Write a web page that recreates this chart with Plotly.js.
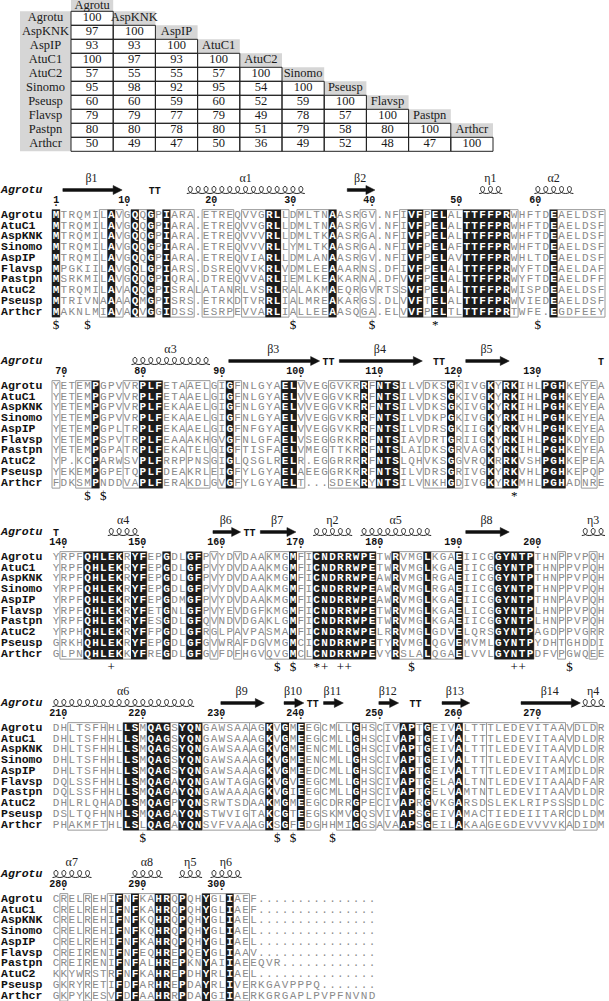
<!DOCTYPE html>
<html>
<head>
<meta charset="utf-8">
<script src="https://cdn.plot.ly/plotly-3.0.1.min.js"></script>
<style>
  html, body { margin: 0; padding: 0; background: #fff; }
  #chart { width: 609px; height: 1001px; }
</style>
</head>
<body>
<div id="chart"></div>
<script>
// ---- identity table (lower triangle, percent) ----
const tableNames = ['Agrotu', 'AspKNK', 'AspIP', 'AtuC1', 'AtuC2', 'Sinomo', 'Pseusp', 'Flavsp', 'Pastpn', 'Arthcr'];
const identity = [
    [100],
    [97, 100],
    [93, 93, 100],
    [100, 97, 93, 100],
    [57, 55, 55, 57, 100],
    [95, 98, 92, 95, 54, 100],
    [60, 60, 59, 60, 52, 59, 100],
    [79, 79, 77, 79, 49, 78, 57, 100],
    [80, 80, 78, 80, 51, 79, 58, 80, 100],
    [50, 49, 47, 50, 36, 49, 52, 48, 47, 100]
];

// ---- alignment ----
const refName = 'Agrotu';
const seqNames = ['Agrotu', 'AtuC1', 'AspKNK', 'Sinomo', 'AspIP', 'Flavsp', 'Pastpn', 'AtuC2', 'Pseusp', 'Arthcr'];

const block1 = [
    'MTRQMILAVGQQGPIARA.ETREQVVGRLLDMLTNAASRGV.NFIVFPELALTTFFPRWHFTDEAELDSF',
    'MTRQMILAVGQQGPIARA.ETREQVVGRLLDMLTNAASRGV.NFIVFPELALTTFFPRWHFTDEAELDSF',
    'MTRQMILAVGQQGPIARA.ETREQVVVRLLDMLTKAASRGA.NFIVFPELALTTFFPRWHFTDEAELDSF',
    'MTRQMILAVGQQGPIARA.ETREQVVVRLLYMLTKAASRGA.NFIVFPELAFTTFFPRWHFTDEAELDSF',
    'MTRQMILAVGQQGPIARA.ETREQVIARLLDMLANAASRGV.NFIVFPELAVTTFFPRWHLTDEAELDSF',
    'MPGKIILAVGQLGPIARS.DSREQVVKRLVDMLEEAAARNS.DFIVFPELALTTFFPRWYFTDEAELDAF',
    'MSRKMILAVGQQGPIQRA.DTREQVVARLIEMLKEAKARNA.DFVVFPELALTTFFPRWYFTDEAELDFF',
    'MTRQMILAVAQQGPISRALATANRLVSRLRALAKMAEQRGVRTSSVFPELALTTFFPRWISPDEAELDSF',
    'MTRIVNAAAAQMGPISRS.ETRKDTVRRLIALMREAKARGS.DLVVFTELALTTFFPRWVIEDEAELDSF',
    'MAKNLMIAVAQVGGIDSS.ESRPEVVARLIALLEEAASQGA.ELVVFPELTLTTFFPRTWFE.EGDFEEY'
];
const block2 = [
    'YETEMPGPVVRPLFETAAELGIGFNLGYAELVVEGGVKRRFNTSILVDKSGKIVGKYRKIHLPGHKEYEA',
    'YETEMPGPVVRPLFETAAELGIGFNLGYAELVVEGGVKRRFNTSILVDKSGKIVGKYRKIHLPGHKEYEA',
    'YETEMPGPVVRPLFEKAAELGIGFNLGYAELVVEGGVKRRFNTSILVDKSGKIVGKYRKIHLPGHKEYEA',
    'YETEMPGPVVRPLFEKAAELGIGFNLGYAELVVEGGVKRRFNTSILVDKPGKIVGKYRKIHLPGHKEYEA',
    'YETEMPGPLTRPLFEKAAELGIGFNFGYAELVVEGGVKRRFNTSILVDRSGKIIGKYRKVHLPGHKEYEA',
    'YETEMPSPVTRPLFEAAAKHGVGFNLGFAELVSEGGRKRRFNTSIAVDRTGRIIGKYRKIHLPGHKDYED',
    'YETEMPGPATRPLFEKATELGIGFTISFAELVMEGTTKRRFNTSLAIDKSGRVAGKYRKIHLPGHKEYEA',
    'YP.KCPARWSVPLFRRPPNSGIGLQSGLRELR.EGGRRRRFNTSLQHVKSGGVRQKRRKVSHPGHKEPEA',
    'YEKEMPGPETQPLFDEAKRLEIGFYLGYAELAEEGGRKRRFNTSILVDRSGRIVGKYRKVHLPGHKEPQP',
    'FDKSMPNDDVAPLFERAKDLGVGFYLGYAELT...SDEKRYNTSILVNKHGDIVGKYRKMHLPGHADNRE'
];
const block3 = [
    'YRPFQHLEKRYFEPGDLGFPVYDVDAAKMGMFICNDRRWPETWRVMGLKGAEIICGGYNTPTHNPPVPQH',
    'YRPFQHLEKRYFEPGDLGFPVYDVDAAKMGMFICNDRRWPETWRVMGLKGAEIICGGYNTPTHNPPVPQH',
    'YRPFQHLEKRYFEPGDLGFPVYDVDAAKMGMFICNDRRWPEAWRVMGLRGAEIICGGYNTPTHNPPVPQH',
    'YRPFQHLEKRYFEPGDLGFPVYDVDAAKMGMFICNDRRWPEAWRVMGLRGAEIICGGYNTPTHNPPVPQH',
    'YRPFQHLEKRYFEPGDMGFPVYDVDAAKMGMFICNDRRWPEAWRVMGLKGAEIICGGYNTPTHNPAVPQH',
    'YRPFQHLEKRYFETGNLGFPVYEVDGFKMGMFICNDRRWPETWRVMGLKGAELICGGYNTPLHNPPVPQH',
    'YRPFQHLEKRYFESGDLGFQVNDVDGAKLGMFICNDRRWPETWRVMGLKGAEIICGGYNTPLHNPPVPQH',
    'YRPHQHLEKRYFFPGDLGFRGLPAVPASMAMFICNDRRWPELRRVMGLGDVELQRSGYNTPAGDPPVGRR',
    'GRKHQHLEKRYFEPGDLGFGVWRAFDGVMGMCICNDRRWPETYRVMGLQGVEMVMLGYNTPYDHTGHDDI',
    'GLPNQHLEKKYFREGDLGFGVFDFHGVQVGMCLCNDRRWPEVYRSLALQGAELVVLGYNTPDFVPGWQEE'
];
const block4 = [
    'DHLTSFHHLLSMQAGSYQNGAWSAAAGKVGMEEGCMLLGHSCIVAPTGEIVALTTTLEDEVITAAVDLDR',
    'DHLTSFHHLLSMQAGSYQNGAWSAAAGKVGMEEGCMLLGHSCIVAPTGEIVALTTTLEDEVITAAVDLDR',
    'DHLTSFHHLLSMQAGSYQNGAWSAAAGKVGMEENCMLLGHSCIVAPTGEIVALTTTLEDEVITAAVDLDR',
    'DHLTSFHHLLSMQAGSYQNGAWSAAAGKVGMEENCMLLGHSCIVAPTGEIVALTTTLEDEVITAAVCLDR',
    'DHLTSFHHLLSMQAGSYQNGAWSAAAGKVGMEEDCMLLGHSCIVAPTGEIVALTTTLEDEVITAMIDLDR',
    'DQLSSFHHLLSMQAGAYQNGAWTAGAGKVGVEEGCMLLGHSCIVAPTGELAALTNTLEDEVITAAADFAR',
    'DQLSSFHHLLSMQAGAYQNGAWAAAAGKVGIEEGCMLLGHSCIVAPTGELVAMTNTLEDEVITAAVDLDR',
    'DHLRLQHADLSMQAGPYQNSRWTSDAAKMGMEEGCDRRGPECIVAPRGVKGARSDSLEKLRIPSSSDLDC',
    'DSLTQFHNHLSMQAGAYQNSTWVIGTAKCGTEEGSKMVGQSVIVAPSGEIVAMACTIEDEIITARCDLDM',
    'PHAKMFTHLLSLQAGAYQNSVFVAAAGKSGFEDGHHMIGGSAVAAPSGEILAKAAGEGDEVVVVKADIDM'
];
const block5 = [
    'CRELREHIFNFKAHRQPQHYGLIAEF...............',
    'CRELREHIFNFKAHRQPQHYGLIAEF...............',
    'CRELREHIFNFKQHRQPQHYGLIAEL...............',
    'CRELREHIFNFKQHRQPQHYGLIAEL...............',
    'CRELREHIFNFKAHRQPQHYGLIAEL...............',
    'CREIRENIFNFEQHREPQEYGLIAAV...............',
    'CREIRENIFNFALHREPKNYAIIAEEQVR............',
    'KKYWRSTRFNFKAHREPDHYRLIAEL...............',
    'GKRYRETIFDFARHREPDAYRLIVERKGAVPPPQ.......',
    'GKPYKESVFDFAAHRRPDAYGIIAERKGRGAPLPVPFNVND'
];

// similarity frames: [first column, last column] per block
const frames1 = [[1, 1], [7, 9], [11, 13], [15, 18], [20, 23], [25, 30], [32, 36], [40, 41], [45, 59], [64, 70]];
const frames2 = [[1, 1], [4, 6], [10, 14], [18, 20], [22, 24], [30, 32], [36, 44], [48, 52], [56, 59], [63, 65], [68, 69]];
const frames3 = [[2, 4], [5, 12], [15, 15], [18, 19], [21, 21], [24, 24], [28, 32], [33, 41], [44, 52], [57, 61], [65, 65], [69, 69]];
const frames4 = [[3, 7], [10, 19], [20, 25], [26, 34], [37, 41], [43, 55], [56, 65], [67, 69]];
const frames5 = [[2, 2], [5, 5], [8, 17], [20, 25]];

// secondary structure of the reference: [kind, label, first column, last column]
const struct1 = [['beta', 'β1', 2, 9], ['turn', 'TT', 13, 14], ['alpha', 'α1', 18, 32], ['beta', 'β2', 38, 41],
    ['alpha', 'η1', 55, 57], ['alpha', 'α2', 62, 66]];
const struct2 = [['alpha', 'α3', 11, 20], ['beta', 'β3', 23, 34], ['turn', 'TT', 35, 36], ['beta', 'β4', 37, 47],
    ['turn', 'TT', 49, 50], ['beta', 'β5', 53, 58], ['turn', 'T', 70, 70]];
const struct3 = [['turn', 'T', 1, 1], ['alpha', 'α4', 8, 11], ['beta', 'β6', 21, 24], ['turn', 'TT', 25, 26],
    ['beta', 'β7', 27, 31], ['alpha', 'η2', 34, 38], ['alpha', 'α5', 40, 48], ['beta', 'β8', 53, 58], ['alpha', 'η3', 68, 70]];
const struct4 = [['alpha', 'α6', 1, 18], ['beta', 'β9', 22, 27], ['beta', 'β10', 30, 32], ['turn', 'TT', 33, 34],
    ['beta', 'β11', 35, 37], ['beta', 'β12', 42, 44], ['turn', 'TT', 46, 47], ['beta', 'β13', 50, 53],
    ['beta', 'β14', 60, 67], ['alpha', 'η4', 68, 70]];
const struct5 = [['alpha', 'α7', 1, 5], ['alpha', 'α8', 11, 14], ['alpha', 'η5', 17, 19], ['alpha', 'η6', 21, 24]];

// symbols under the alignment: [symbol, column]
const marks1 = [['$', 1], ['$', 5], ['$', 31], ['$', 41], ['*', 49], ['$', 62]];
const marks2 = [['$', 5], ['$', 7], ['*', 59]];
const marks3 = [['+', 8], ['$', 29], ['$', 31], ['*', 34], ['+', 35], ['+', 37], ['+', 38], ['$', 46], ['+', 59], ['+', 60], ['$', 66]];
const marks4 = [['$', 12], ['$', 29], ['$', 31], ['$', 36]];
const marks5 = [];

const blocks = [block1, block2, block3, block4, block5];
const frames = [frames1, frames2, frames3, frames4, frames5];
const structs = [struct1, struct2, struct3, struct4, struct5];
const marks = [marks1, marks2, marks3, marks4, marks5];

// ---- page geometry ----
const COL_X0 = 52, COL_W = 7.9, ROW_H = 10.75;
const BLOCK_Y0 = 215, BLOCK_STEP = 171;
const TAB_X0 = 20, TAB_LAB_W = 51, TAB_CELL_W = 42.2, TAB_Y0 = 11.3, TAB_ROW_H = 14;

const colX = c => COL_X0 + (c - 0.5) * COL_W;
const rowY = (b, r) => BLOCK_Y0 + b * BLOCK_STEP + r * ROW_H;

const MONO = '"Liberation Mono", "DejaVu Sans Mono", monospace';
const SERIF = '"Liberation Serif", "DejaVu Serif", serif';

const shapes = [];
const traces = [];

function textTrace(xs, ys, texts, font, pos) {
    return {
        type: 'scatter', mode: 'text', x: xs, y: ys, text: texts,
        textposition: pos || 'middle center', textfont: font,
        hoverinfo: 'skip', showlegend: false, cliponaxis: false
    };
}

function rect(x0, x1, y0, y1, fill, lineColor, lineWidth) {
    shapes.push({
        type: 'rect', xref: 'x', yref: 'y', x0, x1, y0, y1, layer: 'below',
        fillcolor: fill || 'rgba(0,0,0,0)',
        line: {color: lineColor || 'rgba(0,0,0,0)', width: lineWidth || 0}
    });
}

// plotly reads a bare "$" as the start of LaTeX, so hand it over as an entity
const safeText = s => s.replace(/\$/g, '&#36;');

// ---- table ----
const tabGray = '#d6d6d6';
rect(TAB_X0, TAB_X0 + TAB_LAB_W, TAB_Y0, TAB_Y0 + tableNames.length * TAB_ROW_H, tabGray);
const tab = {x: [], y: [], t: []};
tableNames.forEach((name, i) => {
    const cx0 = TAB_X0 + TAB_LAB_W + i * TAB_CELL_W;
    rect(cx0, cx0 + TAB_CELL_W, TAB_Y0 + (i - 1) * TAB_ROW_H, TAB_Y0 + i * TAB_ROW_H, tabGray);
    // the first header sits against the top edge; nudge it down so it stays whole
    const hy = TAB_Y0 + (i - 0.5) * TAB_ROW_H + (i === 0 ? 2 : 0);
    tab.x.push(cx0 + TAB_CELL_W / 2); tab.y.push(hy); tab.t.push(name);
    tab.x.push(TAB_X0 + TAB_LAB_W / 2); tab.y.push(TAB_Y0 + (i + 0.5) * TAB_ROW_H); tab.t.push(name);
});
identity.forEach((row, r) => row.forEach((v, c) => {
    const cx0 = TAB_X0 + TAB_LAB_W + c * TAB_CELL_W;
    const cy0 = TAB_Y0 + r * TAB_ROW_H;
    shapes.push({type: 'rect', x0: cx0, x1: cx0 + TAB_CELL_W, y0: cy0, y1: cy0 + TAB_ROW_H,
        line: {color: '#222', width: 1}, fillcolor: 'rgba(0,0,0,0)', layer: 'above'});
    tab.x.push(cx0 + TAB_CELL_W / 2); tab.y.push(cy0 + TAB_ROW_H / 2); tab.t.push(String(v));
}));
traces.push(textTrace(tab.x, tab.y, tab.t, {family: SERIF, size: 12.5, color: '#1a1a1a'}));

// ---- alignment blocks ----
const plain = {x: [], y: [], t: []};
const boxed = {x: [], y: [], t: []};
const names = {x: [], y: [], t: []};
const nums = {x: [], y: [], t: []};
const dots = {x: [], y: [], t: []};
const turns = {x: [], y: [], t: []};
const greek = {x: [], y: [], t: []};
const refs = {x: [], y: [], t: []};
const syms = {x: [], y: [], t: []};

let resNum = 0;
blocks.forEach((seqs, b) => {
    const ncol = seqs[0].length;
    const top = rowY(b, 0) - ROW_H / 2;
    const bottom = rowY(b, seqs.length - 1) + ROW_H / 2;

    // frames first, black identity boxes over them
    frames[b].forEach(([c0, c1]) => {
        rect(colX(c0) - COL_W / 2, colX(c1) + COL_W / 2, top, bottom, null, '#9a9a9a', 1);
    });
    const ident = [];
    for (let c = 0; c < ncol; c++) {
        const ch = seqs[0][c];
        ident.push(ch !== '.' && seqs.every(s => s[c] === ch));
    }
    for (let c = 0; c < ncol; c++) {
        if (!ident[c] || (c > 0 && ident[c - 1])) continue;
        let e = c;
        while (e + 1 < ncol && ident[e + 1]) e++;
        rect(colX(c + 1) - COL_W / 2, colX(e + 1) + COL_W / 2, top, bottom, '#1c1c1c');
    }

    seqs.forEach((s, r) => {
        names.x.push(1); names.y.push(rowY(b, r)); names.t.push(seqNames[r]);
        for (let c = 0; c < s.length; c++) {
            const dst = ident[c] ? boxed : plain;
            dst.x.push(colX(c + 1)); dst.y.push(rowY(b, r)); dst.t.push(s[c]);
        }
    });

    // numbering from the reference sequence
    for (let c = 0; c < ncol; c++) {
        if (seqs[0][c] === '.') continue;
        resNum++;
        if (resNum === 1 || resNum % 10 === 0) {
            nums.x.push(colX(c + 1) + 3.3); nums.y.push(rowY(b, 0) - 15); nums.t.push(String(resNum));
            dots.x.push(colX(c + 1)); dots.y.push(rowY(b, 0) - 12); dots.t.push('.');
        }
    }

    // secondary structure line
    const ssY = rowY(b, 0) - 25;
    refs.x.push(1); refs.y.push(ssY); refs.t.push(refName);
    structs[b].forEach(([kind, label, c0, c1]) => {
        const mid = (colX(c0) + colX(c1)) / 2;
        if (kind === 'turn') {
            turns.x.push(mid); turns.y.push(ssY + 1); turns.t.push(label);
            return;
        }
        if (kind === 'beta') {
            const xs = colX(c0) - 1, xe = colX(c1) + 3, head = 9;
            const d = `M ${xs} ${ssY - 1.4} L ${xe - head} ${ssY - 1.4} L ${xe - head} ${ssY - 4.5} L ${xe} ${ssY} ` +
                `L ${xe - head} ${ssY + 4.5} L ${xe - head} ${ssY + 1.4} L ${xs} ${ssY + 1.4} Z`;
            shapes.push({type: 'path', path: d, fillcolor: '#111', line: {color: '#111', width: 0.5}, layer: 'above'});
        } else {
            const yb = ssY + 3.5, yt = ssY - 3.5, rr = 3.1;
            let d = `M ${colX(c0) - COL_W / 2 + 0.5} ${yb}`;
            for (let c = c0; c <= c1; c++) {
                const cx = colX(c);
                d += ` C ${cx + rr} ${yb} ${cx + rr} ${yt} ${cx} ${yt}`;
                d += ` C ${cx - rr} ${yt} ${cx - rr} ${yb} ${cx + COL_W / 2} ${yb}`;
            }
            shapes.push({type: 'path', path: d, fillcolor: 'rgba(0,0,0,0)', line: {color: '#222', width: 1}, layer: 'above'});
        }
        greek.x.push(mid); greek.y.push(ssY - 11); greek.t.push(label);
    });

    marks[b].forEach(([sym, c]) => {
        syms.x.push(colX(c)); syms.y.push(rowY(b, seqs.length - 1) + 14); syms.t.push(safeText(sym));
    });
});

traces.push(textTrace(plain.x, plain.y, plain.t, {family: MONO, size: 11, color: '#8a8a8a'}));
traces.push(textTrace(boxed.x, boxed.y, boxed.t, {family: MONO, size: 11, color: '#ffffff', weight: 'bold'}));
traces.push(textTrace(names.x, names.y, names.t, {family: MONO, size: 11.5, color: '#111', weight: 'bold'}, 'middle right'));
traces.push(textTrace(refs.x, refs.y, refs.t, {family: MONO, size: 11.5, color: '#111', weight: 'bold', style: 'italic'}, 'middle right'));
traces.push(textTrace(nums.x, nums.y, nums.t, {family: MONO, size: 10, color: '#111', weight: 'bold'}, 'middle left'));
traces.push(textTrace(dots.x, dots.y, dots.t, {family: MONO, size: 10, color: '#111', weight: 'bold'}));
traces.push(textTrace(turns.x, turns.y, turns.t, {family: MONO, size: 10, color: '#111', weight: 'bold'}));
traces.push(textTrace(greek.x, greek.y, greek.t, {family: SERIF, size: 12, color: '#222'}));
traces.push(textTrace(syms.x, syms.y, syms.t, {family: SERIF, size: 13, color: '#000000'}));

const layout = {
    width: 609,
    height: 1001,
    margin: {l: 0, r: 0, t: 0, b: 0},
    paper_bgcolor: '#ffffff',
    plot_bgcolor: '#ffffff',
    showlegend: false,
    xaxis: {range: [0, 609], visible: false, fixedrange: true},
    yaxis: {range: [1001, 0], visible: false, fixedrange: true},
    shapes: shapes
};

Plotly.newPlot('chart', traces, layout, {staticPlot: true, displayModeBar: false});
</script>
</body>
</html>
